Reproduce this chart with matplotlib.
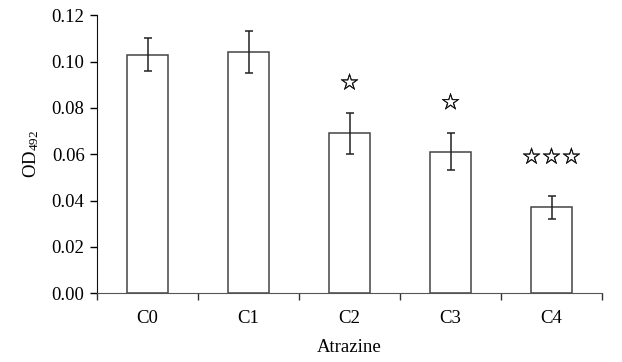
import numpy as np
import matplotlib
matplotlib.use('Agg')
import matplotlib.pyplot as plt
import matplotlib.patheffects as pe

plt.rcParams['font.family'] = ['Liberation Serif', 'DejaVu Sans']
plt.rcParams['mathtext.default'] = 'regular'
plt.rcParams.update({
    'axes.spines.top': False,
    'axes.spines.right': False,
})

groups = ['C0', 'C1', 'C2', 'C3', 'C4']
od_mean = [0.103, 0.104, 0.069, 0.061, 0.037]
od_err = [0.007, 0.009, 0.009, 0.008, 0.005]
marks = ['', '', '☆', '☆', '☆☆☆']
mark_y = [0, 0, 0.0905, 0.082, 0.0585]

fig = plt.figure(figsize=(6.22, 3.62), dpi=100)
ax = fig.add_axes([0.156, 0.19, 0.812, 0.768])

x = np.arange(len(groups))
ax.bar(x, od_mean, width=0.41, color='white', edgecolor='#444444', linewidth=1.1, zorder=2)
ax.errorbar(x, od_mean, yerr=od_err, fmt='none', ecolor='#222222', elinewidth=1.1,
            capsize=2.8, capthick=1.1, zorder=3)

# significance stars
for xi, m, my in zip(x, marks, mark_y):
    if m:
        ax.text(xi, my, m, ha='center', va='center', fontsize=16,
                family=['DejaVu Sans'], color='#111111',
                path_effects=[pe.withStroke(linewidth=0.35, foreground='#111111')])

ax.set_xlim(-0.5, 4.5)
ax.set_ylim(0, 0.12)
ax.set_yticks(np.arange(0, 0.121, 0.02))
ax.set_yticklabels([f'{v:.2f}' for v in np.arange(0, 0.121, 0.02)])
ax.set_xticks(x)
ax.set_xticklabels(groups)
ax.set_xticks(np.arange(-0.5, 4.6, 1), minor=True)
ax.tick_params(axis='x', which='major', length=0, pad=12)
ax.tick_params(axis='x', which='minor', length=5, width=1, color='#333333')
ax.tick_params(axis='y', length=5, width=1, pad=4)
ax.tick_params(labelsize=13.5)
ax.spines['bottom'].set_color('#555555')
ax.spines['left'].set_color('#111111')

ax.set_xlabel('Atrazine', fontsize=13.5, labelpad=9)
ax.set_ylabel('OD$_{492}$', fontsize=13.5, labelpad=8)

fig.savefig('out.png', dpi=100)
